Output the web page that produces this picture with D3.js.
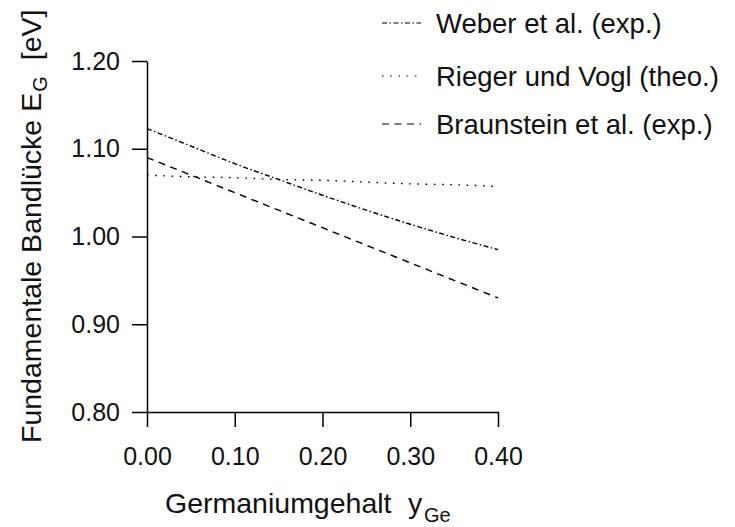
<!DOCTYPE html>
<html>
<head>
<meta charset="utf-8">
<script src="https://cdn.jsdelivr.net/npm/d3@7"></script>
<style>
  html, body { margin: 0; padding: 0; background: #fff; }
  svg { display: block; font-family: "Liberation Sans", Arial, Helvetica, sans-serif; }
</style>
</head>
<body>
<script>
// Germanium content y_Ge and band gap E_G [eV] for the three models
const yGe       = [0.00, 0.05, 0.10, 0.15, 0.20, 0.25, 0.30, 0.35, 0.40];
const weber      = [1.123, 1.103, 1.083, 1.065, 1.047, 1.030, 1.014, 0.999, 0.985];
const rieger     = [1.070, 1.068, 1.067, 1.065, 1.064, 1.062, 1.060, 1.059, 1.057];
const braunstein = [1.090, 1.070, 1.050, 1.030, 1.010, 0.990, 0.970, 0.950, 0.930];

const seriesNames = ["Weber et al. (exp.)", "Rieger und Vogl (theo.)", "Braunstein et al. (exp.)"];
const xTickValues = [0.00, 0.10, 0.20, 0.30, 0.40];
const yTickValues = [0.80, 0.90, 1.00, 1.10, 1.20];

const W = 735, H = 527;
const svg = d3.select("body").append("svg").attr("width", W).attr("height", H);

const x = d3.scaleLinear().domain([0, 0.4]).range([147, 498]);
const y = d3.scaleLinear().domain([0.8, 1.2]).range([412, 61]);

const tickFont = 25;

// y axis
const yAxis = svg.append("g")
  .attr("transform", `translate(${x(0)},0)`)
  .call(d3.axisLeft(y).tickValues(yTickValues).tickFormat(d3.format(".2f"))
        .tickSize(15).tickSizeOuter(0).tickPadding(12));
// x axis
const xAxis = svg.append("g")
  .attr("transform", `translate(0,${y(0.8)})`)
  .call(d3.axisBottom(x).tickValues(xTickValues).tickFormat(d3.format(".2f"))
        .tickSize(15).tickSizeOuter(0).tickPadding(20));

[yAxis, xAxis].forEach(g => {
  g.attr("font-family", null).attr("font-size", null);
  g.select(".domain").attr("stroke", "#000").attr("stroke-width", 1.5);
  g.selectAll(".tick line").attr("stroke", "#000").attr("stroke-width", 1.5);
  g.selectAll(".tick text").attr("fill", "#111").style("font-size", tickFont + "px");
});

// data lines
const styles = [
  { data: weber,      dash: "5,2.5,1.5,2.5" },
  { data: rieger,     dash: "1.6,6.6" },
  { data: braunstein, dash: "7,5.5" }
];
const line = d3.line().x((d, i) => x(yGe[i])).y(d => y(d)).curve(d3.curveMonotoneX);

styles.forEach(s => {
  svg.append("path")
    .attr("d", line(s.data))
    .attr("fill", "none")
    .attr("stroke", "#000")
    .attr("stroke-width", 1.4)
    .attr("stroke-dasharray", s.dash);
});

// legend
const legendY = [23, 76, 124];
const legend = svg.append("g");
seriesNames.forEach((name, i) => {
  legend.append("line")
    .attr("x1", 382).attr("x2", 421)
    .attr("y1", legendY[i]).attr("y2", legendY[i])
    .attr("stroke", "#000").attr("stroke-width", 1.2)
    .attr("stroke-dasharray", styles[i].dash);
  legend.append("text")
    .attr("x", 436).attr("y", legendY[i])
    .attr("dy", "0.35em")
    .style("font-size", "27.5px")
    .attr("fill", "#111")
    .text(name);
});

// x axis title with subscript
const titleSize = 28.5;
const xt = svg.append("g");
xt.append("text").attr("x", 165).attr("y", 513)
  .style("font-size", titleSize + "px").attr("fill", "#111").text("Germaniumgehalt");
xt.append("text").attr("x", 408).attr("y", 513)
  .style("font-size", titleSize + "px").attr("fill", "#111").text("y");
xt.append("text").attr("x", 424).attr("y", 522)
  .style("font-size", "20px").attr("fill", "#111").text("Ge");

// y axis title (rotated) with subscript
const yt = svg.append("g").attr("transform", "translate(41,443) rotate(-90)");
const yMain = yt.append("text").attr("x", 0).attr("y", 0)
  .style("font-size", titleSize + "px").attr("fill", "#111").text("Fundamentale Bandlücke E");
const l1 = yMain.node().getComputedTextLength();
const ySub = yt.append("text").attr("x", l1 + 1).attr("y", 6)
  .style("font-size", "20px").attr("fill", "#111").text("G");
const l2 = ySub.node().getComputedTextLength();
yt.append("text").attr("x", l1 + 1 + l2 + 16).attr("y", 0)
  .style("font-size", titleSize + "px").attr("fill", "#111").text("[eV]");
</script>
</body>
</html>
